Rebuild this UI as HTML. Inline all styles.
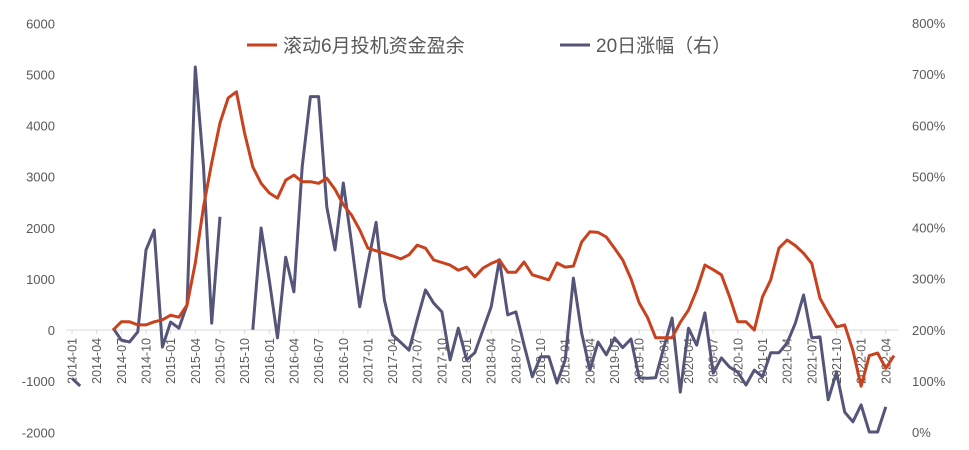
<!DOCTYPE html>
<html><head><meta charset="utf-8"><style>
html,body{margin:0;padding:0;background:#fff;}
svg{display:block;font-family:"Liberation Sans","Noto Sans CJK SC",sans-serif;}
</style></head><body>
<svg id="chart" width="969" height="450" viewBox="0 0 969 450">
<g id="left-axis"></g>
<g id="right-axis"></g>
<line x1="66" y1="330" x2="898" y2="330" stroke="#d9d9d9" stroke-width="1"/>
<g id="x-axis"></g>
<g id="series"></g>
<g>
<line x1="247" y1="45" x2="277" y2="45" stroke="#C9421F" stroke-width="3"/>
<text x="283" y="52" font-size="19" fill="#595959">滚动6月投机资金盈余</text>
<line x1="560" y1="45" x2="590" y2="45" stroke="#55557A" stroke-width="3"/>
<text x="596" y="52" font-size="19" fill="#595959">20日涨幅（右）</text>
</g>
</svg>
<script>
const leftTicks = [-2000,-1000,0,1000,2000,3000,4000,5000,6000];
const rightTicks = [0,100,200,300,400,500,600,700,800];
const startYear = 2014, monthCount = 101;
const surplusStart = 5;
const surplus = [0,160,160,100,100,160,200,290,250,490,1310,2410,3270,4050,4540,4660,3850,3190,2870,2680,2580,2930,3030,2900,2900,2870,2970,2750,2450,2250,1960,1600,1550,1500,1450,1390,1470,1660,1600,1370,1320,1270,1170,1230,1040,1210,1300,1370,1130,1130,1330,1080,1030,980,1310,1230,1250,1720,1920,1910,1820,1600,1370,1000,530,250,-150,-150,-150,150,390,780,1270,1180,1080,650,160,160,0,650,980,1600,1760,1650,1500,1300,620,330,60,100,-400,-1100,-500,-450,-750,-500];
const returns = [105,90,null,null,null,203,180,176,196,356,395,166,215,203,249,714,519,213,421,null,null,null,200,399,297,184,342,274,519,656,656,440,356,487,370,245,330,410,258,190,175,160,220,278,252,235,141,203,141,155,200,245,337,229,235,170,108,147,147,96,141,301,194,121,176,151,184,165,182,106,105,106,165,223,78,203,170,233,115,145,127,117,92,121,108,155,155,174,213,268,184,186,63,117,39,20,53,0,0,49];

const NS="http://www.w3.org/2000/svg";
const x0=72, dx=8.22;
function xPos(i){return x0+dx*i;}
function yLeft(v){return 330-(v/1000)*51.125;}
function yRight(v){return 432-(v/100)*51.125;}
function mk(tag,attrs,parent){const e=document.createElementNS(NS,tag);for(const k in attrs)e.setAttribute(k,attrs[k]);parent.appendChild(e);return e;}

const la=document.getElementById('left-axis');
leftTicks.forEach(v=>{
  const t=mk('text',{x:55,y:yLeft(v)+5,'text-anchor':'end','font-size':13,fill:'#595959'},la);
  
  
  t.textContent=v;
});
const ra=document.getElementById('right-axis');
rightTicks.forEach(v=>{
  const t=mk('text',{x:912,y:yRight(v)+5,'text-anchor':'start','font-size':13,fill:'#595959'},ra);
  
  
  t.textContent=v+'%';
});
const xa=document.getElementById('x-axis');
for(let i=0;i<monthCount;i+=3){
  const y=startYear+Math.floor(i/12), m=(i%12)+1;
  const lbl=y+'-'+(m<10?'0':'')+m;
  const x=xPos(i);
  const tk=mk('line',{x1:x,y1:330,x2:x,y2:334,stroke:'#d9d9d9'},xa);
  
  
  const t=mk('text',{x:0,y:0,'text-anchor':'end','font-size':12.5,fill:'#595959',transform:`translate(${x+4.5},338) rotate(-90)`},xa);
  
  
  t.textContent=lbl;
}
const sg=document.getElementById('series');
function buildPath(arr,offset,yf){
  let d='',pen=false;
  arr.forEach((v,k)=>{
    if(v===null){pen=false;return;}
    const x=xPos(k+offset).toFixed(1), y=yf(v).toFixed(1);
    d+=(pen?'L':'M')+x+' '+y+' ';pen=true;
  });
  return d;
}
const pr=mk('path',{d:buildPath(returns,0,yRight),fill:'none',stroke:'#55557A','stroke-width':3,'stroke-linejoin':'round'},sg);


const ps=mk('path',{d:buildPath(surplus,surplusStart,yLeft),fill:'none',stroke:'#C9421F','stroke-width':3,'stroke-linejoin':'round'},sg);


</script>
</body></html>
